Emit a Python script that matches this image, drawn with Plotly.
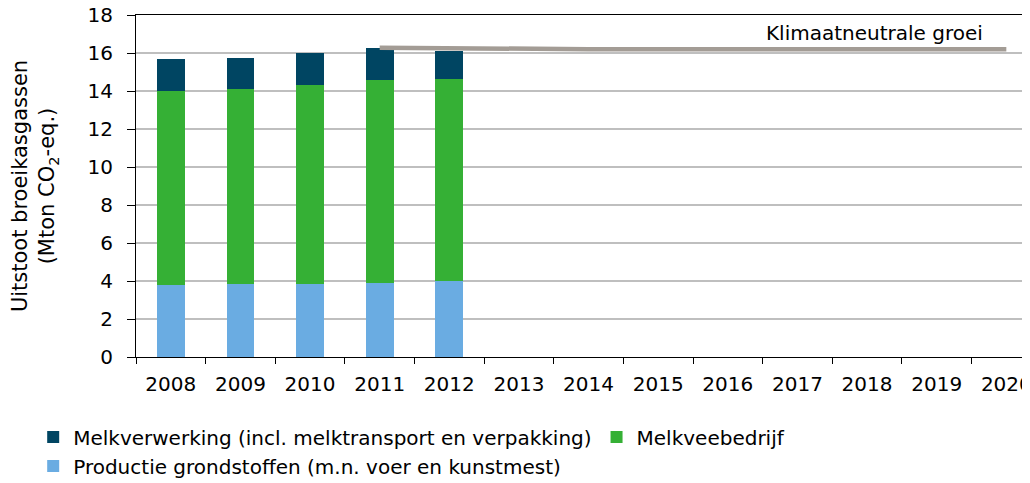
import plotly.graph_objects as go

years = ["2008", "2009", "2010", "2011", "2012", "2013", "2014", "2015",
         "2016", "2017", "2018", "2019", "2020"]
bar_years = ["2008", "2009", "2010", "2011", "2012"]
productie = [3.81, 3.83, 3.83, 3.91, 3.98]
melkveebedrijf = [10.21, 10.26, 10.47, 10.67, 10.67]
melkverwerking = [1.65, 1.67, 1.70, 1.67, 1.47]
line_years = ["2011", "2012", "2013", "2014", "2015", "2016", "2017", "2018", "2019", "2020"]
line_vals = [16.28, 16.24, 16.2, 16.2, 16.2, 16.2, 16.2, 16.2, 16.2, 16.2]

FONT = "DejaVu Sans"
fig = go.Figure()
fig.add_trace(go.Bar(x=bar_years, y=productie, name="Productie grondstoffen (m.n. voer en kunstmest)",
                     marker=dict(color="#6AACE2", line=dict(width=0)), width=0.4,
                     legend="legend2"))
fig.add_trace(go.Bar(x=bar_years, y=melkveebedrijf, name="Melkveebedrijf",
                     marker=dict(color="#35B035", line=dict(width=0)), width=0.4,
                     legend="legend", legendrank=2))
fig.add_trace(go.Bar(x=bar_years, y=melkverwerking, name="Melkverwerking (incl. melktransport en verpakking)",
                     marker=dict(color="#004562", line=dict(width=0)), width=0.4,
                     legend="legend", legendrank=1))
fig.add_trace(go.Scatter(x=line_years, y=line_vals, mode="lines", showlegend=False,
                         line=dict(color="#A39C95", width=4.5)))

fig.add_annotation(x=11.7, y=17.05, xref="x", yref="y", text="Klimaatneutrale groei",
                   showarrow=False, xanchor="right", yanchor="middle",
                   font=dict(family=FONT, size=20, color="#000000"))

legend_common = dict(orientation="h", x=-0.115, xanchor="left", yanchor="top",
                     font=dict(family=FONT, size=20), itemwidth=30,
                     tracegroupgap=0, bgcolor="rgba(0,0,0,0)")

fig.update_layout(
    width=1022, height=475,
    margin=dict(l=128, r=0, t=7, b=126, autoexpand=False),
    paper_bgcolor="white", plot_bgcolor="white",
    barmode="stack", bargap=0.6,
    font=dict(family=FONT, size=20, color="#000000"),
    legend=dict(y=-0.177, traceorder="normal", **legend_common),
    legend2=dict(y=-0.262, **legend_common),
    xaxis=dict(type="category", categoryorder="array", categoryarray=years,
               range=[-0.5, 12.34], tickson="boundaries", ticks="outside",
               ticklen=6, tickcolor="#000000", showline=True, linecolor="#000000",
               linewidth=1, mirror=True, showgrid=False, tickfont=dict(size=20),
               automargin=False, ticklabelstandoff=9),
    yaxis=dict(range=[0, 18], dtick=2, ticks="outside", ticklen=8,
               tickcolor="#000000", showline=True, linecolor="#000000", linewidth=1,
               showgrid=True, gridcolor="#BFBFBF", gridwidth=1.5,
               tickfont=dict(size=20), automargin=False, ticklabeloverflow="allow",
               ticklabelstandoff=10,
               title=dict(text="Uitstoot broeikasgassen<br>(Mton CO<sub>2</sub>-eq.)",
                          font=dict(size=21), standoff=43)),
)
fig.write_html("out.html")
